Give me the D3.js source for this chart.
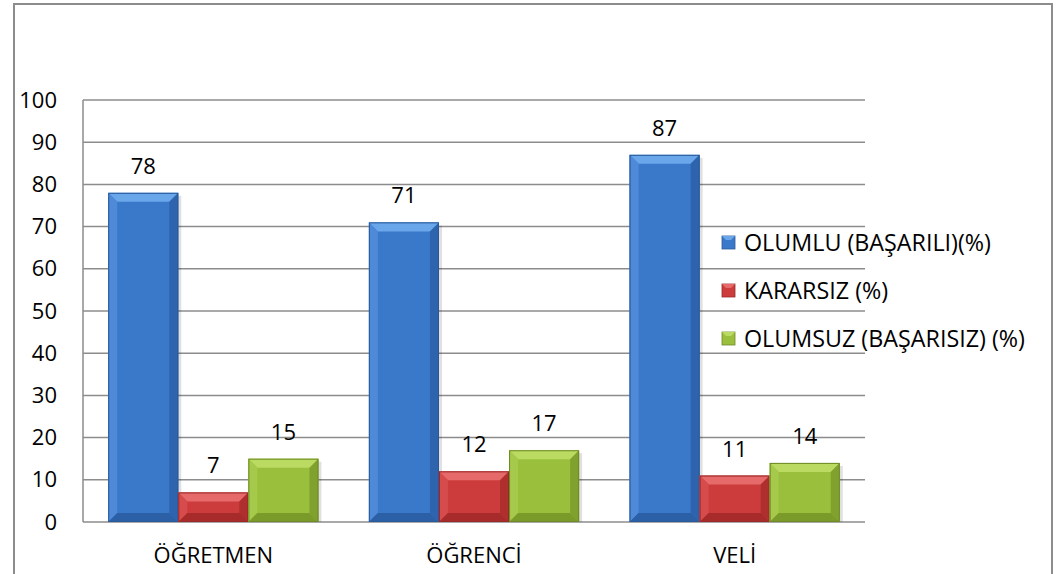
<!DOCTYPE html>
<html><head><meta charset="utf-8">
<script src="https://cdn.jsdelivr.net/npm/d3@7"></script>
<style>body{margin:0;background:#fff}svg{display:block}text{font-family:"Open Sans",sans-serif;fill:#000}</style>
</head><body><svg id="c" width="1059" height="574"></svg>
<script>
const categories = ["ÖĞRETMEN","ÖĞRENCİ","VELİ"];
const seriesNames = ["OLUMLU (BAŞARILI)(%)","KARARSIZ (%)","OLUMSUZ (BAŞARISIZ) (%)"];
const olumlu = [78,71,87];
const kararsiz = [7,12,11];
const olumsuz = [15,17,14];
const yTicks = [0,10,20,30,40,50,60,70,80,90,100];
const seriesValues = [olumlu,kararsiz,olumsuz];
const colors = [
  {base:"#3a78c9", light:"#6aa6ea", side:"#4f8ad8", dark:"#2b5fa6", edge:"#2a5a9a"},
  {base:"#cc3c3c", light:"#e66a6a", side:"#d64c4c", dark:"#a82b2b", edge:"#9a2a2a"},
  {base:"#9abf3c", light:"#bada62", side:"#a5c94a", dark:"#7a9a2a", edge:"#6f8a26"}
];
const FF='"Open Sans",sans-serif';

const svg = d3.select("#c");
svg.append("rect").attr("x",14).attr("y",4).attr("width",1038).attr("height",600)
  .attr("fill","#fff").attr("stroke","#8c8c8c").attr("stroke-width",2);

const L=83,R=865,T=100,B=522;
const y = d3.scaleLinear().domain([0,100]).range([B,T]);
const x0 = d3.scaleBand().domain(categories).range([L,R]).padding(0);
const x1 = d3.scaleBand().domain(d3.range(3)).range([0,x0.bandwidth()]).paddingInner(0).paddingOuter(0.36);

svg.append("g").selectAll("line").data(yTicks).join("line")
  .attr("x1",L).attr("x2",R).attr("y1",d=>y(d)).attr("y2",d=>y(d))
  .attr("stroke","#8c8c8c").attr("stroke-width",1.5);
svg.append("line").attr("x1",L).attr("x2",L).attr("y1",T).attr("y2",B).attr("stroke","#8c8c8c").attr("stroke-width",1.5);

const yAxis = svg.append("g").attr("transform",`translate(${L},0)`)
  .call(d3.axisLeft(y).tickValues(yTicks).tickSize(0).tickPadding(26));
yAxis.select(".domain").remove();
yAxis.selectAll("text").style("font-size","22px").style("font-family",FF).attr("fill","#000");

const xAxis = svg.append("g").attr("transform",`translate(0,${B})`)
  .call(d3.axisBottom(x0).tickSize(0).tickPadding(0));
xAxis.select(".domain").remove();
xAxis.selectAll("text").style("font-size","22px").style("font-family",FF).attr("fill","#000").attr("y",41).attr("dy",0);

const bev=9;
categories.forEach((c,ci)=>{
  seriesValues.forEach((vals,si)=>{
    const v=vals[ci];
    const bx=x0(c)+x1(si), bw=x1.bandwidth(), by=y(v), bh=y(0)-y(v);
    const col=colors[si];
    const g=svg.append("g");
    g.append("rect").attr("x",bx+3).attr("y",by+3).attr("width",bw).attr("height",bh-3).attr("fill","#000").attr("opacity",0.12);
    g.append("rect").attr("x",bx).attr("y",by).attr("width",bw).attr("height",bh).attr("fill",col.base);
    const b=Math.min(bev,bh/2);
    const x2=bx+bw,y2=by+bh;
    g.append("polygon").attr("points",[[bx,by],[x2,by],[x2-b,by+b],[bx+b,by+b]].join(" ")).attr("fill",col.light);
    g.append("polygon").attr("points",[[bx,by],[bx+b,by+b],[bx+b,y2-b],[bx,y2]].join(" ")).attr("fill",col.side);
    g.append("polygon").attr("points",[[x2,by],[x2,y2],[x2-b,y2-b],[x2-b,by+b]].join(" ")).attr("fill",col.dark).attr("opacity",0.8);
    g.append("polygon").attr("points",[[bx,y2],[bx+b,y2-b],[x2-b,y2-b],[x2,y2]].join(" ")).attr("fill",col.dark);
    g.append("rect").attr("x",bx+0.5).attr("y",by+0.5).attr("width",bw-1).attr("height",bh-1).attr("fill","none").attr("stroke",col.edge).attr("stroke-width",1);
    svg.append("text").attr("x",bx+bw/2).attr("y",by-19).attr("text-anchor","middle")
      .style("font-size","22px").text(v);
  });
});

const leg = svg.append("g");
seriesNames.forEach((n,i)=>{
  const ly=243+i*48;
  const col=colors[i];
  leg.append("rect").attr("x",722).attr("y",ly-7).attr("width",13).attr("height",13).attr("fill",col.base).attr("stroke",col.edge).attr("stroke-width",0.8);
  leg.append("polygon").attr("points",[[722,ly-7],[735,ly-7],[731,ly-3],[726,ly-3]].join(" ")).attr("fill",col.light);
  leg.append("text").attr("x",744).attr("y",ly).attr("dy","0.35em").style("font-size","23.3px").text(n);
});
</script></body></html>
